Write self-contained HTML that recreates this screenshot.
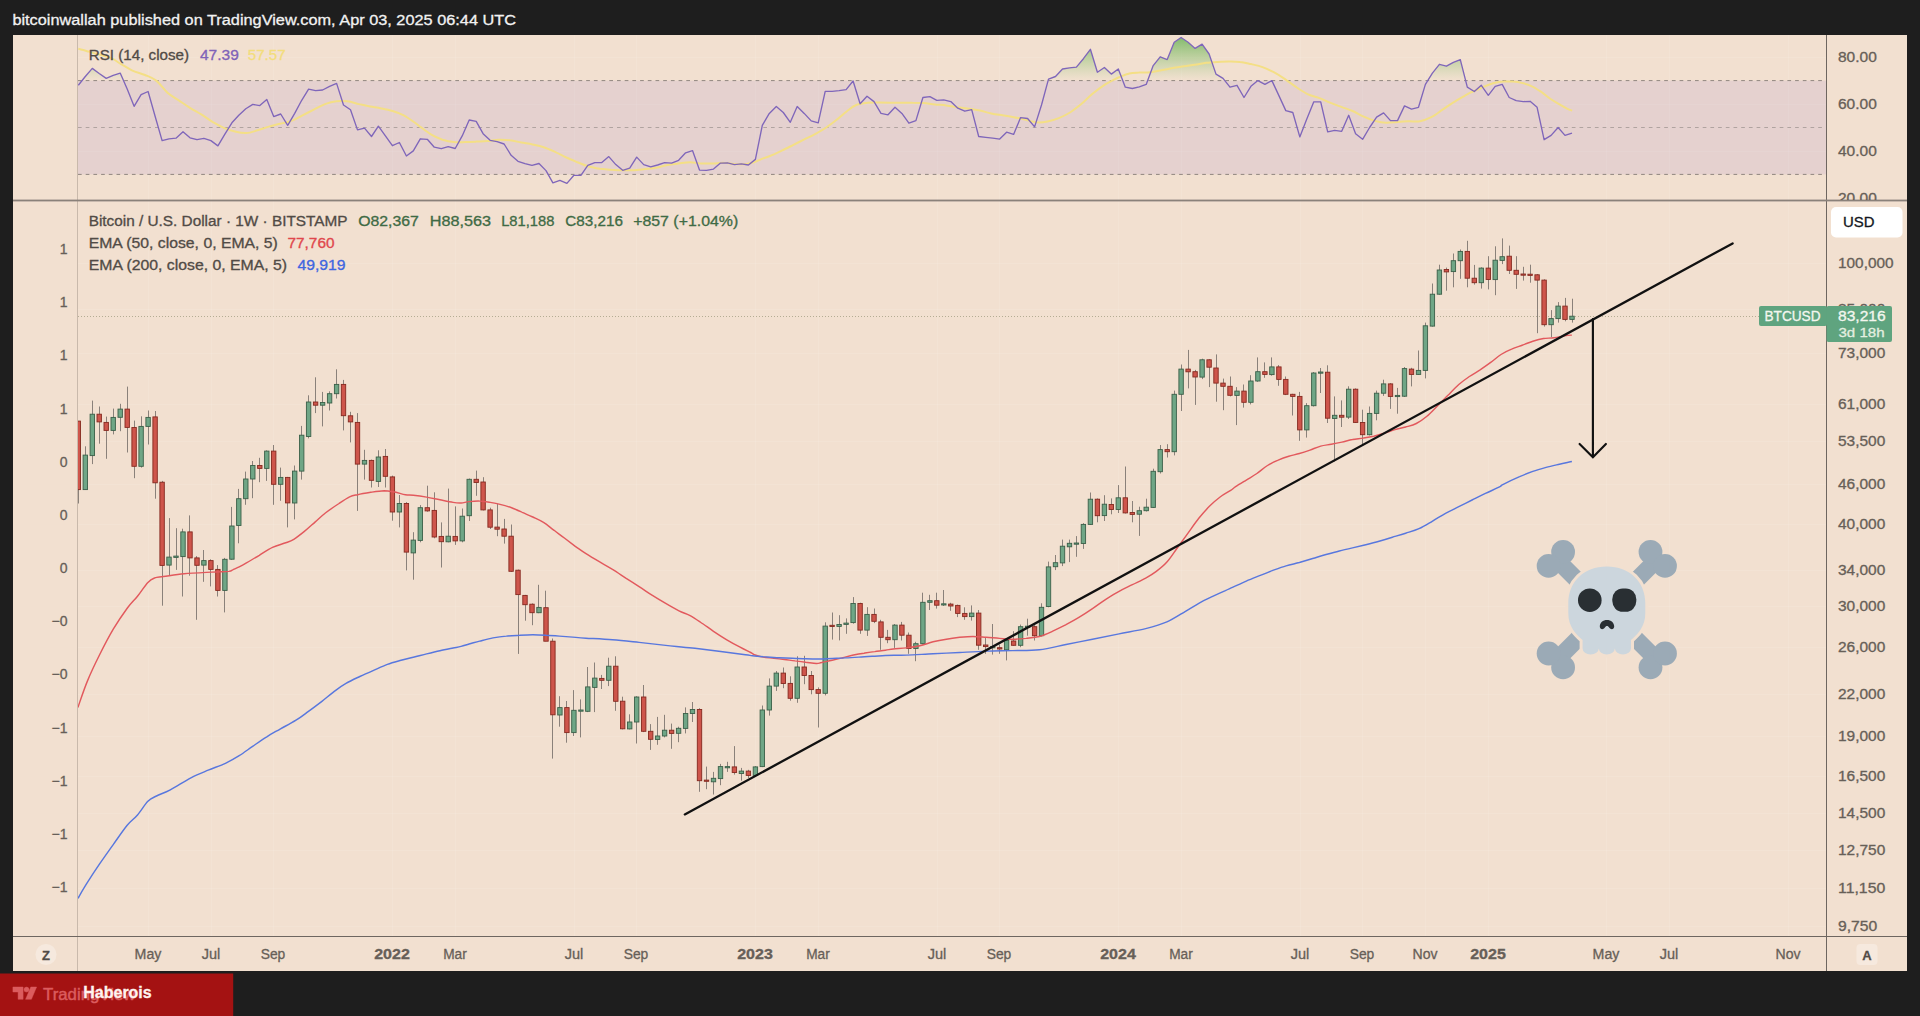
<!DOCTYPE html>
<html lang="en"><head><meta charset="utf-8"><title>BTCUSD 1W chart</title>
<style>html,body{margin:0;padding:0;background:#1e1e1e;}body{width:1920px;height:1016px;overflow:hidden;}svg{display:block;}text{font-family:"Liberation Sans", Arial, sans-serif;}</style>
</head><body>
<svg width="1920" height="1016" viewBox="0 0 1920 1016">
<defs>
<clipPath id="cpMain"><rect x="78" y="201" width="1748.5" height="735.5"/></clipPath>
<clipPath id="cpRsi"><rect x="78" y="35" width="1748.5" height="165.5"/></clipPath>
<clipPath id="cpOB"><rect x="78" y="35" width="1748.5" height="45.6"/></clipPath>
<clipPath id="cpLeft"><rect x="13" y="201" width="64" height="735"/></clipPath>
<clipPath id="cpRsiAx"><rect x="1827" y="35" width="80" height="165"/></clipPath>
<linearGradient id="gOB" x1="0" y1="35" x2="0" y2="80.6" gradientUnits="userSpaceOnUse"><stop offset="0" stop-color="#6db35a" stop-opacity="0.9"/><stop offset="0.55" stop-color="#86c06c" stop-opacity="0.42"/><stop offset="1" stop-color="#9ccb84" stop-opacity="0"/></linearGradient>
</defs>
<rect x="0" y="0" width="1920" height="1016" fill="#1e1e1e"/>
<text x="12.4" y="25" font-size="15.5" fill="#f2f2f2" textLength="503.6" lengthAdjust="spacingAndGlyphs" stroke="#f2f2f2" stroke-width="0.3">bitcoinwallah published on TradingView.com, Apr 03, 2025 06:44 UTC</text>
<rect x="13" y="35" width="1894" height="936" fill="#F2E0D0"/>
<g stroke="#fff" stroke-opacity="0.10" stroke-width="1">
<line x1="148.5" y1="35" x2="148.5" y2="936"/>
<line x1="211.5" y1="35" x2="211.5" y2="936"/>
<line x1="273.5" y1="35" x2="273.5" y2="936"/>
<line x1="392.5" y1="35" x2="392.5" y2="936"/>
<line x1="455.5" y1="35" x2="455.5" y2="936"/>
<line x1="574.5" y1="35" x2="574.5" y2="936"/>
<line x1="636.5" y1="35" x2="636.5" y2="936"/>
<line x1="755.5" y1="35" x2="755.5" y2="936"/>
<line x1="818.5" y1="35" x2="818.5" y2="936"/>
<line x1="937.5" y1="35" x2="937.5" y2="936"/>
<line x1="999.5" y1="35" x2="999.5" y2="936"/>
<line x1="1118.5" y1="35" x2="1118.5" y2="936"/>
<line x1="1181.5" y1="35" x2="1181.5" y2="936"/>
<line x1="1300.5" y1="35" x2="1300.5" y2="936"/>
<line x1="1362.5" y1="35" x2="1362.5" y2="936"/>
<line x1="1425.5" y1="35" x2="1425.5" y2="936"/>
<line x1="1488.5" y1="35" x2="1488.5" y2="936"/>
<line x1="1606.5" y1="35" x2="1606.5" y2="936"/>
<line x1="1669.5" y1="35" x2="1669.5" y2="936"/>
<line x1="1788.5" y1="35" x2="1788.5" y2="936"/>
<line x1="78" y1="263.5" x2="1826" y2="263.5"/>
<line x1="78" y1="309.5" x2="1826" y2="309.5"/>
<line x1="78" y1="353.5" x2="1826" y2="353.5"/>
<line x1="78" y1="404.5" x2="1826" y2="404.5"/>
<line x1="78" y1="441.5" x2="1826" y2="441.5"/>
<line x1="78" y1="484.5" x2="1826" y2="484.5"/>
<line x1="78" y1="524.5" x2="1826" y2="524.5"/>
<line x1="78" y1="570.5" x2="1826" y2="570.5"/>
<line x1="78" y1="606.5" x2="1826" y2="606.5"/>
<line x1="78" y1="647.5" x2="1826" y2="647.5"/>
<line x1="78" y1="694.5" x2="1826" y2="694.5"/>
<line x1="78" y1="736.5" x2="1826" y2="736.5"/>
<line x1="78" y1="776.5" x2="1826" y2="776.5"/>
<line x1="78" y1="813.5" x2="1826" y2="813.5"/>
<line x1="78" y1="850.5" x2="1826" y2="850.5"/>
<line x1="78" y1="888.5" x2="1826" y2="888.5"/>
<line x1="78" y1="926.5" x2="1826" y2="926.5"/>
<line x1="78" y1="57.5" x2="1826" y2="57.5"/>
<line x1="78" y1="104.5" x2="1826" y2="104.5"/>
<line x1="78" y1="151.5" x2="1826" y2="151.5"/>
</g>
<g clip-path="url(#cpRsi)">
<rect x="78" y="80.6" width="1748" height="93.8" fill="#7E57C2" fill-opacity="0.105"/>
<path d="M78.3,80.6 L78.3,85.3 L85.3,76.5 L92.3,68.4 L99.2,73.5 L106.2,78.4 L113.2,75.4 L120.2,73.1 L127.2,89.1 L134.1,106.3 L141.1,94.7 L148.1,91.5 L155.1,116.3 L162.1,140.6 L169,138.8 L176,138.2 L183,131.8 L190,137.8 L197,139.7 L203.9,138.4 L210.9,140.6 L217.9,145.9 L224.9,134.1 L231.9,122.8 L238.8,115.3 L245.8,108.8 L252.8,104.4 L259.8,105.6 L266.8,99.4 L273.7,116.6 L280.7,114 L287.7,125.3 L294.7,113.4 L301.7,100.3 L308.6,89.1 L315.6,90.6 L322.6,90 L329.6,86.3 L336.6,83.4 L343.5,105 L350.5,109.7 L357.5,129.9 L364.5,128.1 L371.5,136.5 L378.4,126.2 L385.4,135.9 L392.4,145.7 L399.4,142.5 L406.4,156 L413.3,150.9 L420.3,138.8 L427.3,139.3 L434.3,147.2 L441.3,148.7 L448.2,146.6 L455.2,148.5 L462.2,135.9 L469.2,120 L476.2,121.3 L483.1,133.7 L490.1,140.3 L497.1,141.6 L504.1,144 L511.1,155.3 L518,161.3 L525,163.7 L532,165.4 L539,163.5 L546,170.6 L552.9,182.8 L559.9,180.4 L566.9,183.4 L573.9,175.3 L580.9,175.3 L587.8,165.4 L594.8,162.6 L601.8,162.6 L608.8,156.6 L615.8,164.6 L622.7,170.3 L629.7,168.2 L636.7,157.1 L643.7,164.6 L650.7,166.9 L657.6,165 L664.6,162.6 L671.6,163.1 L678.6,160.3 L685.6,152.8 L692.5,150.6 L699.5,170.1 L706.5,170.3 L713.5,169.1 L720.5,163.1 L727.4,162.8 L734.4,164.6 L741.4,163.9 L748.4,165 L755.4,159.4 L762.3,125.3 L769.3,113.4 L776.3,106.5 L783.3,112.5 L790.3,122.3 L797.2,106.5 L804.2,113.4 L811.2,120.9 L818.2,122.8 L825.2,91.3 L832.1,91.3 L839.1,90.6 L846.1,89.6 L853.1,81 L860.1,103.7 L867,96.2 L874,101.6 L881,113.4 L888,114.8 L895,107.3 L901.9,113.4 L908.9,123.2 L915.9,120.6 L922.9,97.5 L929.9,96.6 L936.8,100.3 L943.8,99.9 L950.8,101.6 L957.8,108.2 L964.8,111.2 L971.7,109.7 L978.7,136.5 L985.7,137.3 L992.7,138.2 L999.7,139.1 L1006.6,132.2 L1013.6,134.4 L1020.6,117.6 L1027.6,118.5 L1034.6,126.9 L1041.5,105 L1048.5,79.1 L1055.5,76.5 L1062.5,69 L1069.5,67.9 L1076.4,67.1 L1083.4,58.7 L1090.4,49.3 L1097.4,72.2 L1104.4,67.5 L1111.3,74.1 L1118.3,69 L1125.3,87.2 L1132.3,88.5 L1139.3,86.8 L1146.2,84.4 L1153.2,65.6 L1160.2,56.8 L1167.2,59.6 L1174.2,42.2 L1181.1,37.5 L1188.1,42.2 L1195.1,48.4 L1202.1,44.1 L1209.1,54 L1216,74.1 L1223,78.4 L1230,87.2 L1237,85.3 L1244,97.5 L1250.9,86.3 L1257.9,80.6 L1264.9,84.4 L1271.9,80.6 L1278.9,95.6 L1285.8,110.6 L1292.8,112.5 L1299.8,136.9 L1306.8,119.1 L1313.8,101.8 L1320.7,101.8 L1327.7,131.8 L1334.7,130.3 L1341.7,131.3 L1348.7,115.3 L1355.6,133.7 L1362.6,139.3 L1369.6,127.5 L1376.6,117.2 L1383.6,112.9 L1390.5,120.6 L1397.5,120.6 L1404.5,105.9 L1411.5,109.1 L1418.5,107.3 L1425.4,84.4 L1432.4,73.1 L1439.4,64.3 L1446.4,66.2 L1453.4,62.3 L1460.3,59.6 L1467.3,87.2 L1474.3,91.5 L1481.3,85.3 L1488.3,95.3 L1495.2,86.3 L1502.2,84.4 L1509.2,97.5 L1516.2,100.7 L1523.2,101.6 L1530.1,101.3 L1537.1,107.3 L1544.1,139.7 L1551.1,135.4 L1558.1,127.5 L1565,135.4 L1572,133.1 L1572,80.6 Z" fill="url(#gOB)" clip-path="url(#cpOB)"/>
<line x1="78" y1="80.6" x2="1825.5" y2="80.6" stroke="#90867f" stroke-width="1" stroke-dasharray="3.7 4"/>
<line x1="78" y1="127.5" x2="1825.5" y2="127.5" stroke="#b0a3a0" stroke-width="1" stroke-dasharray="3.7 4"/>
<line x1="78" y1="174.4" x2="1825.5" y2="174.4" stroke="#90867f" stroke-width="1" stroke-dasharray="3.7 4"/>
<path fill="none" stroke="#F4DF85" stroke-width="2" stroke-linejoin="round" d="M78.3,48.8C80,49.2 85.1,50.6 88.8,51.6C92.4,52.6 96.3,53.7 100,54.8C103.8,55.8 107.8,56.6 111.3,58.1C114.7,59.6 117.2,61.7 120.6,63.8C124.1,65.8 127.8,68.4 131.9,70.3C135.9,72.2 140.9,73.3 145,75C149.1,76.7 152.5,77.7 156.3,80.6C160,83.6 163.8,89.5 167.5,92.8C171.3,96.1 175,97.8 178.8,100.3C182.5,102.8 186.3,105.5 190,107.8C193.8,110.2 197.5,112 201.3,114.4C205,116.7 208.8,119.6 212.5,121.9C216.3,124.1 220,126.3 223.8,127.9C227.5,129.5 231.3,130.8 235,131.6C238.8,132.5 242.5,133.3 246.3,133.1C250,132.9 253.8,131.4 257.5,130.3C261.3,129.2 265,127.7 268.8,126.6C272.5,125.5 276.3,124.7 280,123.8C283.8,122.8 287.5,122.3 291.3,120.9C295,119.5 298.8,117.2 302.5,115.3C306.3,113.4 310,111.6 313.8,109.7C317.5,107.8 321.3,105.5 325,104.1C328.8,102.7 332.5,101.7 336.3,101.3C340,100.8 343.8,100.8 347.5,101.3C351.3,101.7 355,103.2 358.8,104.1C362.5,104.9 366.3,105.8 370,106.5C373.8,107.2 377.5,107.6 381.3,108.4C385,109.1 388.8,109.8 392.5,111C396.3,112.2 400,113.3 403.8,115.3C407.5,117.3 412.3,120.9 415,122.8C417.7,124.7 417.3,124.6 420,126.6C422.7,128.5 427.5,132.4 431.3,134.6C435,136.8 438.8,138.4 442.5,139.7C446.3,140.9 450,141.7 453.8,142.1C457.5,142.5 461.3,142.2 465,142.1C468.8,142 472.5,141.8 476.3,141.6C480,141.4 483.8,141.3 487.5,141C491.3,140.7 495,139.8 498.8,139.7C502.5,139.6 506.3,139.8 510,140.3C513.8,140.7 517.5,141.8 521.3,142.5C525,143.2 528.8,143.6 532.5,144.4C536.3,145.2 540,145.9 543.8,147.2C547.5,148.4 551.3,150.2 555,151.9C558.8,153.6 562.5,155.8 566.3,157.5C570,159.2 573.8,160.7 577.5,162.2C581.3,163.7 585,165.4 588.8,166.5C592.5,167.6 596.3,168.2 600,168.8C603.8,169.3 607.5,169.4 611.3,169.7C615,169.9 618.8,170.2 622.5,170.3C626.3,170.3 630,170.4 633.8,170.3C637.5,170.1 641.3,169.5 645,169.1C648.8,168.7 652.5,168.5 656.3,167.8C660,167.1 663.8,165.7 667.5,165C671.3,164.3 675,164 678.8,163.5C682.5,163 686.3,162.2 690,162.2C693.8,162.2 697.5,163.3 701.3,163.5C705,163.7 708.8,163.6 712.5,163.5C716.3,163.4 720,162.7 723.8,162.8C727.5,162.8 731.3,163.8 735,164.1C738.8,164.3 743.1,164.4 746.3,164.1C749.4,163.8 750.9,163.1 753.8,162.2C756.6,161.3 760.4,159.5 763.1,158.4C765.8,157.4 767,157.3 770,156C773,154.8 777.5,152.7 781.3,150.9C785,149.2 788.8,147.2 792.5,145.3C796.3,143.4 800,141.6 803.8,139.7C807.5,137.8 811.3,136.1 815,134.1C818.8,132 822.5,130 826.3,127.5C830,125 833.8,122 837.5,119.1C841.3,116.1 845.6,112 848.8,109.7C851.9,107.3 853.1,106.2 856.3,105C859.4,103.8 863.8,103.2 867.5,102.8C871.3,102.3 875,102.6 878.8,102.6C882.5,102.6 886.3,102.7 890,102.8C893.8,102.8 897.5,102.8 901.3,102.8C905,102.8 908.8,102.7 912.5,102.8C916.3,102.8 920,102.8 923.8,103.1C927.5,103.4 931.3,104.1 935,104.4C938.8,104.8 942.5,104.9 946.3,105.4C950,105.8 953.8,106.7 957.5,107.3C961.3,107.8 965,108.2 968.8,108.8C972.5,109.3 976.3,109.8 980,110.6C983.8,111.4 987.5,112.7 991.3,113.4C995,114.2 998.8,114.7 1002.5,115.3C1006.3,115.9 1010,116.5 1013.8,117.2C1017.5,117.9 1021.3,118.8 1025,119.6C1028.8,120.5 1032.5,121.9 1036.3,122.3C1040,122.6 1043.8,122.2 1047.5,121.5C1051.3,120.8 1055,119.6 1058.8,118.1C1062.5,116.6 1066.3,114.8 1070,112.5C1073.8,110.2 1077.5,107.2 1081.3,104.1C1085,100.9 1088.8,96.9 1092.5,93.8C1096.3,90.6 1100,87.8 1103.8,85.3C1107.5,82.9 1112.3,80.5 1115,79.1C1117.7,77.7 1117.6,77.8 1120,76.9C1122.4,75.9 1126.3,74.2 1129.4,73.5C1132.5,72.8 1135.3,72.8 1138.8,72.6C1142.2,72.3 1146.3,72.6 1150,72.2C1153.8,71.8 1157.5,71 1161.3,70.3C1165,69.6 1168.8,68.8 1172.5,68.1C1176.3,67.4 1180,66.8 1183.8,66.2C1187.5,65.6 1191.3,65.3 1195,64.7C1198.8,64.1 1202.5,63.3 1206.3,62.8C1210,62.3 1213.8,62.1 1217.5,61.9C1221.3,61.7 1225,61.5 1228.8,61.5C1232.5,61.5 1236.3,61.4 1240,61.9C1243.8,62.3 1247.5,63.3 1251.3,64.1C1255,65 1258.8,65.8 1262.5,67.1C1266.3,68.5 1270,70.2 1273.8,72.2C1277.5,74.2 1281.3,76.6 1285,79.1C1288.8,81.6 1292.5,84.7 1296.3,87.2C1300,89.7 1303.8,92.3 1307.5,94.1C1311.3,95.9 1315,96.5 1318.8,97.9C1322.5,99.3 1326.3,101.1 1330,102.6C1333.8,104.1 1337.5,105.5 1341.3,106.9C1345,108.3 1348.8,109.4 1352.5,111C1356.3,112.6 1360,115 1363.8,116.6C1367.5,118.3 1371.3,119.9 1375,120.9C1378.8,122 1382.5,122.7 1386.3,122.8C1390,123 1393.8,122.1 1397.5,121.9C1401.3,121.6 1405,121.4 1408.8,121.3C1412.5,121.2 1416.3,122 1420,121.3C1423.8,120.6 1427.5,119.1 1431.3,117.2C1435,115.3 1438.8,112.2 1442.5,109.7C1446.3,107.2 1450,104.5 1453.8,102.2C1457.5,99.8 1462.3,97.2 1465,95.6C1467.7,94.1 1468.4,93.6 1470,92.8C1471.6,92 1473,91.7 1474.7,90.9C1476.3,90.2 1477.6,89.5 1479.9,88.5C1482.3,87.5 1486,85.8 1488.8,84.8C1491.5,83.8 1493.8,83 1496.3,82.5C1498.8,82 1500.9,81.7 1503.8,81.6C1506.6,81.4 1510,81.3 1513.1,81.6C1516.3,81.8 1519.4,82.3 1522.5,83.1C1525.6,83.8 1528.8,84.8 1531.9,86.3C1535,87.7 1538.1,89.8 1541.3,91.9C1544.4,94 1547.5,96.9 1550.6,99C1553.8,101.1 1557.2,103 1560,104.6C1562.8,106.3 1565.5,107.8 1567.5,108.8C1569.5,109.8 1571.4,110.3 1572.2,110.6"/>
<polyline fill="none" stroke="#7F66BA" stroke-width="1.35" stroke-linejoin="round" points="78.3,85.3 85.3,76.5 92.3,68.4 99.2,73.5 106.2,78.4 113.2,75.4 120.2,73.1 127.2,89.1 134.1,106.3 141.1,94.7 148.1,91.5 155.1,116.3 162.1,140.6 169,138.8 176,138.2 183,131.8 190,137.8 197,139.7 203.9,138.4 210.9,140.6 217.9,145.9 224.9,134.1 231.9,122.8 238.8,115.3 245.8,108.8 252.8,104.4 259.8,105.6 266.8,99.4 273.7,116.6 280.7,114 287.7,125.3 294.7,113.4 301.7,100.3 308.6,89.1 315.6,90.6 322.6,90 329.6,86.3 336.6,83.4 343.5,105 350.5,109.7 357.5,129.9 364.5,128.1 371.5,136.5 378.4,126.2 385.4,135.9 392.4,145.7 399.4,142.5 406.4,156 413.3,150.9 420.3,138.8 427.3,139.3 434.3,147.2 441.3,148.7 448.2,146.6 455.2,148.5 462.2,135.9 469.2,120 476.2,121.3 483.1,133.7 490.1,140.3 497.1,141.6 504.1,144 511.1,155.3 518,161.3 525,163.7 532,165.4 539,163.5 546,170.6 552.9,182.8 559.9,180.4 566.9,183.4 573.9,175.3 580.9,175.3 587.8,165.4 594.8,162.6 601.8,162.6 608.8,156.6 615.8,164.6 622.7,170.3 629.7,168.2 636.7,157.1 643.7,164.6 650.7,166.9 657.6,165 664.6,162.6 671.6,163.1 678.6,160.3 685.6,152.8 692.5,150.6 699.5,170.1 706.5,170.3 713.5,169.1 720.5,163.1 727.4,162.8 734.4,164.6 741.4,163.9 748.4,165 755.4,159.4 762.3,125.3 769.3,113.4 776.3,106.5 783.3,112.5 790.3,122.3 797.2,106.5 804.2,113.4 811.2,120.9 818.2,122.8 825.2,91.3 832.1,91.3 839.1,90.6 846.1,89.6 853.1,81 860.1,103.7 867,96.2 874,101.6 881,113.4 888,114.8 895,107.3 901.9,113.4 908.9,123.2 915.9,120.6 922.9,97.5 929.9,96.6 936.8,100.3 943.8,99.9 950.8,101.6 957.8,108.2 964.8,111.2 971.7,109.7 978.7,136.5 985.7,137.3 992.7,138.2 999.7,139.1 1006.6,132.2 1013.6,134.4 1020.6,117.6 1027.6,118.5 1034.6,126.9 1041.5,105 1048.5,79.1 1055.5,76.5 1062.5,69 1069.5,67.9 1076.4,67.1 1083.4,58.7 1090.4,49.3 1097.4,72.2 1104.4,67.5 1111.3,74.1 1118.3,69 1125.3,87.2 1132.3,88.5 1139.3,86.8 1146.2,84.4 1153.2,65.6 1160.2,56.8 1167.2,59.6 1174.2,42.2 1181.1,37.5 1188.1,42.2 1195.1,48.4 1202.1,44.1 1209.1,54 1216,74.1 1223,78.4 1230,87.2 1237,85.3 1244,97.5 1250.9,86.3 1257.9,80.6 1264.9,84.4 1271.9,80.6 1278.9,95.6 1285.8,110.6 1292.8,112.5 1299.8,136.9 1306.8,119.1 1313.8,101.8 1320.7,101.8 1327.7,131.8 1334.7,130.3 1341.7,131.3 1348.7,115.3 1355.6,133.7 1362.6,139.3 1369.6,127.5 1376.6,117.2 1383.6,112.9 1390.5,120.6 1397.5,120.6 1404.5,105.9 1411.5,109.1 1418.5,107.3 1425.4,84.4 1432.4,73.1 1439.4,64.3 1446.4,66.2 1453.4,62.3 1460.3,59.6 1467.3,87.2 1474.3,91.5 1481.3,85.3 1488.3,95.3 1495.2,86.3 1502.2,84.4 1509.2,97.5 1516.2,100.7 1523.2,101.6 1530.1,101.3 1537.1,107.3 1544.1,139.7 1551.1,135.4 1558.1,127.5 1565,135.4 1572,133.1"/>
</g>
<text x="88.7" y="59.6" font-size="14" fill="#514b46" textLength="100.4" lengthAdjust="spacingAndGlyphs" stroke="#514b46" stroke-width="0.3">RSI (14, close)</text>
<text x="200" y="59.6" font-size="14" fill="#7F63B8" textLength="38.8" lengthAdjust="spacingAndGlyphs" stroke="#7F63B8" stroke-width="0.3">47.39</text>
<text x="247.8" y="59.6" font-size="14" fill="#F3DD7C" textLength="37.8" lengthAdjust="spacingAndGlyphs" stroke="#F3DD7C" stroke-width="0.3">57.57</text>
<g clip-path="url(#cpMain)">
<line x1="78" y1="316.5" x2="1826" y2="316.5" stroke="#a09c80" stroke-opacity="0.75" stroke-width="1" stroke-dasharray="1 2"/>
<path d="M78.5,421.1V503.5M85.5,446.3V489.6M92.5,400.6V464.1M99.5,406.5V443.7M106.5,416.6V458.8M113.5,408.6V434.4M120.5,403.8V431.2M127.5,386.6V452.5M134.5,420.6V478.2M141.5,416.3V467.6M148.5,410.5V444.5M155.5,411V498.7M162.5,480.9V605.7M169.5,518.1V575.7M176.5,528.2V569.9M182.5,528.7V596.5M189.5,515.4V575.7M196.5,556.1V619.8M203.5,550V581.8M210.5,559.3V586.4M217.5,565.1V596.5M224.5,557.9V612.4M231.5,506.9V559.8M238.5,488.9V543.3M245.5,471.6V504.8M252.5,461V498.2M259.5,457.8V482.2M266.5,450.3V480.9M273.5,445V504.8M280.5,467.6V500.8M287.5,476.9V527.4M294.5,465.5V519.4M301.5,425.9V479.6M308.5,395.3V438.4M315.5,377.3V413.1M322.5,391.9V426.4M329.5,391.3V410.5M336.5,369.3V398.5M343.5,379.9V430.4M350.5,411.8V442.4M357.5,413.1V510.9M364.5,449.8V479.6M371.5,459.6V487.5M378.5,450.3V487M385.5,449V487.5M392.5,475.6V520.7M399.5,495V527.4M406.5,502.1V570.4M413.5,532.2V579.7M420.5,505.1V542.3M427.5,485.7V511.7M434.5,492.3V538.3M441.5,522.4V567.5M448.5,488.6V542.3M455.5,506.4V544.9M462.5,508.5V542.3M469.5,478.5V521M476.5,470.6V495.8M483.5,477.2V510.4M490.5,507.7V529M497.5,503.8V536.2M504.5,518.9V543.6M511.5,524.5V572M518.5,569.6V653.9M525.5,594.9V620.7M532.5,603.4V625.2M538.5,584.8V613.2M545.5,590.7V641.2M552.5,638.5V758.6M559.5,696.2V726.7M566.5,701V742.7M573.5,690.1V736M580.5,699.4V737.4M587.5,667V712.1M594.5,662.5V712.1M601.5,674.9V689M608.5,657.7V686.1M615.5,656.3V710.8M622.5,696.7V729.4M629.5,714.3V729.4M636.5,696.2V743.5M643.5,685V732.1M650.5,724.1V749.9M657.5,716.9V744.8M664.5,714.8V737.4M671.5,723.6V748.8M678.5,726.7V742.2M685.5,707.4V733.4M692.5,702V722M699.5,708.2V791.8M706.5,766.6V789.2M713.5,771.9V794.5M720.5,763.9V785.2M727.5,761.8V771.9M734.5,746.1V774.6M741.5,767.9V780.7M748.5,769.8V778M755.5,766.1V776.7M762.5,705.5V767.1M769.5,678.4V715.6M776.5,671V690.9M783.5,667.5V688.2M790.5,676.3V700.7M797.5,656.3V702.8M804.5,655.8V684.2M811.5,671V694.3M818.5,687.4V727.5M825.5,622.3V695.4M832.5,612.5V639.6M839.5,615.2V640.4M846.5,618.4V633.8M853.5,597.1V623.7M860.5,602.7V633.8M867.5,607.2V635.9M874.5,608.5V623.1M880.5,619.8V649.8M887.5,629.9V643.2M894.5,624V647.9M901.5,621.9V640.5M908.5,632.5V653.8M915.5,641.8V661.2M922.5,592.7V644.5M929.5,594.8V610M936.5,592.7V608.6M943.5,590V606M950.5,602.8V610.8M957.5,604.6V617.1M964.5,607.3V619.8M971.5,605.4V620.6M978.5,610V649.8M985.5,637.9V653.8M992.5,624V654.6M999.5,644.5V653.8M1006.5,639.2V660.4M1013.5,631.2V645.8M1020.5,624.6V647.2M1027.5,618.7V635.7M1034.5,624.6V640.5M1041.5,603.3V636.5M1048.5,561.6V607.3M1055.5,555V570.1M1062.5,539.6V566.1M1069.5,539.6V562.1M1076.5,536.1V556.8M1083.5,523.1V548.9M1090.5,492.5V524.9M1097.5,498.4V522.3M1104.5,495.2V521M1111.5,498.4V514.3M1118.5,485.1V513M1125.5,466.5V513.5M1132.5,501V522.3M1139.5,506.7V535.9M1146.5,498.7V511.5M1153.5,468.7V508M1160.5,445V473.5M1167.5,444.2V457.5M1174.5,390.6V455.4M1181.5,364.5V411M1188.5,349.9V388.4M1195.5,369.9V404.9M1202.5,358.7V379.1M1209.5,359.2V387.1M1216.5,354.4V401.7M1223.5,378.6V410.2M1230.5,376.5V396.4M1236.5,387.1V425.1M1243.5,384.5V407.6M1250.5,375.2V404.4M1257.5,357.4V381.8M1264.5,362.4V377.8M1271.5,357.4V375.7M1278.5,365.1V385.8M1285.5,376.5V395.1M1292.5,393.8V415.5M1299.5,391.9V440.8M1306.5,403.1V437.6M1313.5,372V406.5M1320.5,368V393M1327.5,365.3V423M1334.5,396.4V461.5M1341.5,400.4V427M1348.5,386.3V419M1355.5,388.4V423M1362.5,409.7V445.6M1369.5,406.5V435.5M1376.5,390.6V420.3M1383.5,379.7V395.9M1390.5,383.1V408.9M1397.5,387.9V413.7M1404.5,367V397M1411.5,367.8V386.4M1418.5,350.5V374.9M1425.5,322.6V378.4M1432.5,283.5V326.6M1439.5,264.7V294.7M1446.5,267.6V290.7M1453.5,253.5V287.3M1460.5,249.5V278.8M1467.5,240.8V287.3M1474.5,264.9V284.6M1481.5,267.3V288.6M1488.5,256.2V289.4M1495.5,246.3V295.2M1502.5,238.4V264.1M1509.5,245.6V274M1516.5,256.2V288.9M1523.5,266.8V280.6M1530.5,264.7V282.7M1537.5,274V333.2M1544.5,279.3V326.6M1551.5,310.1V337.2M1558.5,302.1V322.6M1565.5,297.9V321.3M1572.5,298.7V322.6" stroke="#8a817a" stroke-width="1" fill="none"/>
<g fill="#6FA686" stroke="#3a5f48" stroke-width="0.9"><rect x="83.1" y="455.1" width="4.4" height="34.5"/><rect x="90.1" y="414.2" width="4.4" height="41.4"/><rect x="111" y="417.4" width="4.4" height="13"/><rect x="118" y="409.1" width="4.4" height="8.2"/><rect x="138.9" y="426.4" width="4.4" height="39.9"/><rect x="145.9" y="417.4" width="4.4" height="9"/><rect x="166.8" y="557.1" width="4.4" height="8"/><rect x="173.8" y="556.1" width="4.4" height="1.3"/><rect x="180.8" y="531.9" width="4.4" height="24.7"/><rect x="201.7" y="560.6" width="4.4" height="4.5"/><rect x="222.7" y="559.3" width="4.4" height="31.1"/><rect x="229.7" y="526" width="4.4" height="33.2"/><rect x="236.6" y="498.7" width="4.4" height="26.8"/><rect x="243.6" y="479" width="4.4" height="19.7"/><rect x="250.6" y="465.5" width="4.4" height="13.5"/><rect x="264.6" y="451.1" width="4.4" height="17.3"/><rect x="278.5" y="477.4" width="4.4" height="6.9"/><rect x="292.5" y="471.1" width="4.4" height="31.9"/><rect x="299.5" y="435.2" width="4.4" height="35.9"/><rect x="306.4" y="402" width="4.4" height="34.5"/><rect x="320.4" y="402.5" width="4.4" height="2.7"/><rect x="327.4" y="393.7" width="4.4" height="9.3"/><rect x="334.4" y="384.4" width="4.4" height="9.3"/><rect x="362.3" y="460.4" width="4.4" height="3.7"/><rect x="376.2" y="457" width="4.4" height="24.4"/><rect x="397.2" y="503.5" width="4.4" height="8.5"/><rect x="411.1" y="540.1" width="4.4" height="12.8"/><rect x="418.1" y="507.7" width="4.4" height="32.7"/><rect x="446" y="536.2" width="4.4" height="5.6"/><rect x="460" y="516.2" width="4.4" height="24.7"/><rect x="467" y="479.3" width="4.4" height="36.4"/><rect x="536.8" y="607.4" width="4.4" height="5.3"/><rect x="557.7" y="707.6" width="4.4" height="7.4"/><rect x="571.7" y="710.3" width="4.4" height="22.3"/><rect x="578.7" y="710" width="4.4" height="1.2"/><rect x="585.6" y="686.9" width="4.4" height="24.4"/><rect x="592.6" y="678.1" width="4.4" height="9.3"/><rect x="606.6" y="666.2" width="4.4" height="14.1"/><rect x="627.5" y="722" width="4.4" height="6.9"/><rect x="634.5" y="697" width="4.4" height="25"/><rect x="655.4" y="736" width="4.4" height="3.5"/><rect x="662.4" y="730.2" width="4.4" height="5.8"/><rect x="676.4" y="728.3" width="4.4" height="5"/><rect x="683.4" y="713.5" width="4.4" height="14.9"/><rect x="690.3" y="709.5" width="4.4" height="4"/><rect x="711.3" y="778.3" width="4.4" height="3.5"/><rect x="718.3" y="766.6" width="4.4" height="12"/><rect x="725.2" y="766.6" width="4.4" height="1.2"/><rect x="739.2" y="771.1" width="4.4" height="2.4"/><rect x="753.2" y="766.9" width="4.4" height="8.5"/><rect x="760.1" y="710" width="4.4" height="56.6"/><rect x="767.1" y="686.1" width="4.4" height="23.9"/><rect x="774.1" y="673.1" width="4.4" height="13"/><rect x="795" y="667" width="4.4" height="31.3"/><rect x="823" y="626.1" width="4.4" height="67.2"/><rect x="836.9" y="624.5" width="4.4" height="1.9"/><rect x="843.9" y="623.1" width="4.4" height="1.3"/><rect x="850.9" y="603.5" width="4.4" height="19.1"/><rect x="864.8" y="614.4" width="4.4" height="15.7"/><rect x="892.8" y="625.1" width="4.4" height="14.6"/><rect x="913.7" y="643.7" width="4.4" height="4.8"/><rect x="920.7" y="602.3" width="4.4" height="41.4"/><rect x="927.7" y="600.7" width="4.4" height="1.6"/><rect x="941.6" y="603.8" width="4.4" height="1.2"/><rect x="969.5" y="613.1" width="4.4" height="3.5"/><rect x="990.5" y="646.6" width="4.4" height="1.2"/><rect x="1004.4" y="640.5" width="4.4" height="9.3"/><rect x="1018.4" y="626.7" width="4.4" height="18.6"/><rect x="1025.4" y="626.2" width="4.4" height="1.2"/><rect x="1039.3" y="607.3" width="4.4" height="28.4"/><rect x="1046.3" y="566.9" width="4.4" height="39.6"/><rect x="1053.3" y="562.7" width="4.4" height="4"/><rect x="1060.3" y="546.2" width="4.4" height="16.7"/><rect x="1067.3" y="543.3" width="4.4" height="3.5"/><rect x="1074.2" y="543" width="4.4" height="1.2"/><rect x="1081.2" y="524.4" width="4.4" height="19.1"/><rect x="1088.2" y="499.2" width="4.4" height="25.2"/><rect x="1102.2" y="504.2" width="4.4" height="11.4"/><rect x="1116.1" y="497.8" width="4.4" height="11.7"/><rect x="1137.1" y="510.7" width="4.4" height="3.5"/><rect x="1144" y="507.2" width="4.4" height="3.5"/><rect x="1151" y="471.3" width="4.4" height="36.1"/><rect x="1158" y="449.6" width="4.4" height="22.1"/><rect x="1172" y="394.3" width="4.4" height="57.4"/><rect x="1178.9" y="369.1" width="4.4" height="25.2"/><rect x="1199.9" y="359.8" width="4.4" height="17.3"/><rect x="1234.8" y="391.1" width="4.4" height="4.3"/><rect x="1248.7" y="381" width="4.4" height="21.3"/><rect x="1255.7" y="371.7" width="4.4" height="9.3"/><rect x="1269.7" y="366.9" width="4.4" height="7.7"/><rect x="1304.6" y="405.7" width="4.4" height="24.2"/><rect x="1311.6" y="373" width="4.4" height="32.7"/><rect x="1318.5" y="372" width="4.4" height="1.2"/><rect x="1332.5" y="415.3" width="4.4" height="3.2"/><rect x="1346.5" y="389.2" width="4.4" height="27.9"/><rect x="1367.4" y="413.4" width="4.4" height="21.3"/><rect x="1374.4" y="393.2" width="4.4" height="20.2"/><rect x="1381.4" y="383.9" width="4.4" height="9.3"/><rect x="1395.3" y="395.4" width="4.4" height="1.2"/><rect x="1402.3" y="368.6" width="4.4" height="27.6"/><rect x="1416.3" y="370.4" width="4.4" height="4"/><rect x="1423.2" y="325.8" width="4.4" height="44.6"/><rect x="1430.2" y="294.2" width="4.4" height="31.9"/><rect x="1437.2" y="270" width="4.4" height="24.2"/><rect x="1451.2" y="260.7" width="4.4" height="10.9"/><rect x="1458.1" y="251.4" width="4.4" height="9.3"/><rect x="1479.1" y="268.1" width="4.4" height="14.6"/><rect x="1493" y="260.2" width="4.4" height="19.4"/><rect x="1500" y="256.7" width="4.4" height="3.7"/><rect x="1548.9" y="318.6" width="4.4" height="6.1"/><rect x="1555.9" y="306.1" width="4.4" height="12.5"/><rect x="1569.8" y="316.2" width="4.4" height="3.2"/></g>
<g fill="#CE554B" stroke="#85291f" stroke-width="0.9"><rect x="76.1" y="421.1" width="4.4" height="68.5"/><rect x="97" y="414.2" width="4.4" height="7.7"/><rect x="104" y="422.4" width="4.4" height="8"/><rect x="125" y="409.1" width="4.4" height="18.3"/><rect x="131.9" y="427.5" width="4.4" height="38.8"/><rect x="152.9" y="416.9" width="4.4" height="65.9"/><rect x="159.9" y="482.2" width="4.4" height="83.2"/><rect x="187.8" y="531.9" width="4.4" height="26"/><rect x="194.8" y="557.9" width="4.4" height="7.4"/><rect x="208.7" y="560.6" width="4.4" height="8.8"/><rect x="215.7" y="569.4" width="4.4" height="21"/><rect x="257.6" y="465.5" width="4.4" height="2.9"/><rect x="271.5" y="451.1" width="4.4" height="33.2"/><rect x="285.5" y="477.4" width="4.4" height="25.5"/><rect x="313.4" y="402" width="4.4" height="3.2"/><rect x="341.3" y="384.4" width="4.4" height="31.3"/><rect x="348.3" y="415.8" width="4.4" height="6.1"/><rect x="355.3" y="422.4" width="4.4" height="41.7"/><rect x="369.3" y="460.4" width="4.4" height="19.9"/><rect x="383.2" y="456.4" width="4.4" height="19.9"/><rect x="390.2" y="476.9" width="4.4" height="35.1"/><rect x="404.2" y="503.5" width="4.4" height="48.6"/><rect x="425.1" y="507.7" width="4.4" height="3.2"/><rect x="432.1" y="510.4" width="4.4" height="26.6"/><rect x="439.1" y="536.4" width="4.4" height="5.3"/><rect x="453" y="536.4" width="4.4" height="4.5"/><rect x="474" y="479.3" width="4.4" height="3.2"/><rect x="480.9" y="482" width="4.4" height="27.9"/><rect x="487.9" y="509.9" width="4.4" height="17.3"/><rect x="494.9" y="527.1" width="4.4" height="2.1"/><rect x="501.9" y="529" width="4.4" height="7.2"/><rect x="508.9" y="536.2" width="4.4" height="35.1"/><rect x="515.8" y="570.2" width="4.4" height="24.4"/><rect x="522.8" y="595.4" width="4.4" height="9.3"/><rect x="529.8" y="604.2" width="4.4" height="8.5"/><rect x="543.8" y="607.7" width="4.4" height="33.5"/><rect x="550.7" y="641.2" width="4.4" height="73.6"/><rect x="564.7" y="707.6" width="4.4" height="25"/><rect x="599.6" y="678.4" width="4.4" height="1.9"/><rect x="613.6" y="666.2" width="4.4" height="35.1"/><rect x="620.5" y="701.2" width="4.4" height="27.6"/><rect x="641.5" y="697" width="4.4" height="34.3"/><rect x="648.5" y="731.3" width="4.4" height="8"/><rect x="669.4" y="730.2" width="4.4" height="3.2"/><rect x="697.3" y="709.5" width="4.4" height="71.2"/><rect x="704.3" y="780.1" width="4.4" height="1.2"/><rect x="732.2" y="766.9" width="4.4" height="5.6"/><rect x="746.2" y="771.1" width="4.4" height="4.3"/><rect x="781.1" y="673.1" width="4.4" height="10.4"/><rect x="788.1" y="683.4" width="4.4" height="14.9"/><rect x="802" y="667" width="4.4" height="8.5"/><rect x="809" y="675.5" width="4.4" height="14.1"/><rect x="816" y="689.6" width="4.4" height="3.7"/><rect x="829.9" y="625.3" width="4.4" height="1.2"/><rect x="857.9" y="603.5" width="4.4" height="26.6"/><rect x="871.8" y="614.4" width="4.4" height="6.9"/><rect x="878.8" y="621.9" width="4.4" height="15.4"/><rect x="885.8" y="637.3" width="4.4" height="2.4"/><rect x="899.7" y="625.1" width="4.4" height="10.1"/><rect x="906.7" y="635.2" width="4.4" height="13.3"/><rect x="934.6" y="600.7" width="4.4" height="4.5"/><rect x="948.6" y="604.1" width="4.4" height="1.9"/><rect x="955.6" y="605.4" width="4.4" height="8"/><rect x="962.6" y="613.4" width="4.4" height="3.2"/><rect x="976.5" y="613.1" width="4.4" height="32.1"/><rect x="983.5" y="645" width="4.4" height="1.6"/><rect x="997.5" y="647.7" width="4.4" height="1.3"/><rect x="1011.4" y="641" width="4.4" height="4.3"/><rect x="1032.4" y="626.7" width="4.4" height="9"/><rect x="1095.2" y="499.2" width="4.4" height="16.5"/><rect x="1109.1" y="504.5" width="4.4" height="5"/><rect x="1123.1" y="497.8" width="4.4" height="15.1"/><rect x="1130.1" y="512.5" width="4.4" height="1.9"/><rect x="1165" y="449.6" width="4.4" height="2.1"/><rect x="1185.9" y="369.1" width="4.4" height="2.7"/><rect x="1192.9" y="371.7" width="4.4" height="5.3"/><rect x="1206.9" y="359.8" width="4.4" height="7.4"/><rect x="1213.8" y="368" width="4.4" height="15.1"/><rect x="1220.8" y="383.1" width="4.4" height="3.2"/><rect x="1227.8" y="386.3" width="4.4" height="9"/><rect x="1241.8" y="391.1" width="4.4" height="11.2"/><rect x="1262.7" y="371.7" width="4.4" height="2.7"/><rect x="1276.7" y="366.9" width="4.4" height="12.5"/><rect x="1283.6" y="379.4" width="4.4" height="14.9"/><rect x="1290.6" y="394.3" width="4.4" height="2.1"/><rect x="1297.6" y="396.4" width="4.4" height="33.5"/><rect x="1325.5" y="372.2" width="4.4" height="46"/><rect x="1339.5" y="415.3" width="4.4" height="1.9"/><rect x="1353.4" y="389.2" width="4.4" height="33.2"/><rect x="1360.4" y="422.5" width="4.4" height="12.2"/><rect x="1388.3" y="383.9" width="4.4" height="12.5"/><rect x="1409.3" y="369.1" width="4.4" height="5.3"/><rect x="1444.2" y="269.5" width="4.4" height="2.4"/><rect x="1465.1" y="251.4" width="4.4" height="26.8"/><rect x="1472.1" y="278.2" width="4.4" height="4.5"/><rect x="1486.1" y="268.1" width="4.4" height="11.4"/><rect x="1507" y="256.2" width="4.4" height="14.1"/><rect x="1514" y="270.3" width="4.4" height="4"/><rect x="1521" y="274" width="4.4" height="1.2"/><rect x="1527.9" y="274.2" width="4.4" height="1.2"/><rect x="1534.9" y="274.8" width="4.4" height="5.3"/><rect x="1541.9" y="280.1" width="4.4" height="44.6"/><rect x="1562.8" y="306.1" width="4.4" height="13.3"/></g>
<path fill="none" stroke="#E2595D" stroke-width="1.45" stroke-linejoin="round" d="M77.9,707.5C79.5,703 83.9,689.4 87.6,680.6C91.2,671.8 95.3,663.4 99.6,654.8C103.9,646.1 108.8,636.7 113.4,628.9C118,621.2 123.2,613.7 127.2,608.2C131.2,602.8 134.1,600.5 137.5,596.2C141,591.9 145,585.4 147.9,582.4C150.7,579.4 152.2,578.9 154.8,577.9C157.3,576.9 158.5,577.2 163.4,576.5C168.3,575.9 176,574.5 184.1,573.8C192.1,573 204.2,572.5 211.6,572.1C219.1,571.7 225.3,571.7 228.8,571.4C232.4,571 231,570.6 232.7,569.9C234.4,569.1 237,568 239.2,566.9C241.4,565.8 242.6,565.2 246,563.2C249.3,561.3 254.8,557.9 259.3,555.3C263.7,552.6 268.1,549.4 272.5,547.3C277,545.2 282.3,544.1 285.8,542.8C289.4,541.5 290.7,541.2 293.8,539.3C296.9,537.4 300.9,534.2 304.4,531.4C308,528.5 311.5,525.2 315,522.1C318.6,519 321.7,515.9 325.7,512.8C329.7,509.7 335,506.1 339,503.5C342.9,500.8 346.5,498.3 349.6,496.8C352.7,495.4 354,495.4 357.6,494.7C361.1,493.9 366.4,493 370.8,492.3C375.3,491.6 380.1,490.8 384.1,490.7C388.1,490.7 391.2,491.4 394.8,492C398.3,492.7 402.3,494.2 405.4,494.7C408.5,495.2 409.8,494.9 413.3,495.3C416.8,495.7 422.1,496.4 426.6,497.1C431,497.9 435.4,498.9 439.9,499.8C444.3,500.7 449.6,501.9 453.1,502.4C456.7,503 458.4,503.1 461.1,503C463.8,502.8 466,501.9 469.1,501.6C472.2,501.3 476.2,501 479.7,501.1C483.2,501.2 486.8,501.9 490.3,502.4C493.9,503 497.4,503.7 501,504.6C504.5,505.4 508,506.5 511.6,507.7C515.1,509 518.7,510.7 522.2,512.3C525.8,513.8 529.3,515.4 532.8,517C536.4,518.7 539.9,520.1 543.5,522.4C547,524.6 550.5,527.7 554.1,530.3C557.6,533 561.2,535.6 564.7,538.3C568.3,541 571.8,543.7 575.3,546.3C578.9,548.8 582,551.1 586,553.7C590,556.3 594.8,559.1 599.3,561.7C603.7,564.3 608.1,566.6 612.5,569.4C617,572.1 621.4,575.3 625.8,578.2C630.3,581 634.7,583.8 639.1,586.7C643.5,589.5 648,592.6 652.4,595.4C656.8,598.2 661.2,600.8 665.7,603.4C670.1,606 675,608.8 679,610.8C682.9,612.8 686,613.5 689.6,615.3C693.1,617.2 696.2,619.3 700.2,622C704.2,624.6 709.1,628.3 713.5,631.3C717.9,634.3 722.4,637.1 726.8,639.8C731.2,642.4 736.1,645.1 740.1,647.2C744,649.4 748.2,651.2 750.7,652.5C753.2,653.8 753.1,654.2 755.2,655C757.3,655.8 760.1,656.6 763.2,657.1C766.3,657.7 770.3,657.8 773.8,658.2C777.3,658.6 780.9,659.1 784.4,659.5C788,660 791.5,660.4 795,660.9C798.6,661.3 802.1,661.7 805.7,662.2C809.2,662.6 813.6,663.5 816.3,663.5C819,663.6 819,663 821.6,662.5C824.3,661.9 828.7,661.1 832.2,660.3C835.8,659.5 839.3,658.6 842.9,657.7C846.4,656.8 850,655.8 853.5,655C857,654.3 860.6,653.7 864.1,653.2C867.7,652.6 871.2,652 874.8,651.6C878.3,651.1 882.3,650.7 885.4,650.2C888.5,649.8 889.8,649.4 893.3,649C896.8,648.6 902.1,648.5 906.6,647.9C911,647.4 915.4,646.8 919.9,645.8C924.3,644.8 928.7,642.9 933.1,641.8C937.6,640.7 942,639.9 946.4,639.2C950.8,638.4 955.3,637.8 959.7,637.3C964.1,636.9 968.6,636.5 973,636.5C977.4,636.5 981.8,637 986.3,637.3C990.7,637.6 995.1,638.1 999.6,638.4C1004,638.7 1008.4,639.2 1012.8,639.2C1017.3,639.2 1021.7,638.8 1026.1,638.4C1030.5,637.9 1035,637.7 1039.4,636.5C1043.8,635.3 1048.3,633.2 1052.7,631.2C1057.1,629.2 1061.5,626.9 1066,624.6C1070.4,622.2 1074.8,619.8 1079.3,617.1C1083.7,614.5 1088.1,611.6 1092.5,608.6C1097,605.7 1101.4,602.2 1105.8,599.3C1110.3,596.5 1114.7,593.8 1119.1,591.4C1123.5,588.9 1128,586.9 1132.4,584.7C1136.8,582.5 1141.7,580.3 1145.7,578.1C1149.7,575.9 1152.8,574.1 1156.3,571.4C1159.8,568.8 1163.4,566.1 1166.9,562.1C1170.5,558.2 1174,552.4 1177.6,547.5C1181.1,542.7 1184.6,537.8 1188.2,532.9C1191.7,528 1195.3,522.7 1198.8,518.3C1202.4,513.9 1205.9,509.9 1209.4,506.3C1213,502.8 1216.5,499.7 1220.1,497C1223.6,494.4 1228.1,492.1 1230.7,490.4C1233.3,488.7 1233,488.5 1235.6,486.7C1238.2,485 1242.7,482.3 1246.3,480.1C1249.8,477.9 1253.4,475.9 1256.9,473.5C1260.4,471 1264,467.7 1267.5,465.5C1271.1,463.3 1274.6,461.7 1278.2,460.2C1281.7,458.6 1285.2,457.3 1288.8,456.2C1292.3,455.1 1295.9,454.6 1299.4,453.5C1302.9,452.5 1306.5,451.3 1310,450.1C1313.6,448.8 1317.1,447.1 1320.7,446.1C1324.2,445.1 1327.7,444.9 1331.3,444.2C1334.8,443.6 1338.4,442.9 1341.9,442.1C1345.5,441.3 1349,440.1 1352.5,439.5C1356.1,438.8 1359.6,438.7 1363.2,438.1C1366.7,437.6 1370.3,437.1 1373.8,436.3C1377.3,435.4 1380.9,434.2 1384.4,433.1C1388,432 1391.5,430.6 1395,429.6C1398.6,428.6 1402.1,428 1405.7,427C1409.2,426 1412.8,425.3 1416.3,423.5C1419.8,421.7 1423.4,419.3 1426.9,416.3C1430.5,413.4 1434,409.3 1437.6,405.7C1441.1,402.2 1444.6,398.6 1448.2,395.1C1451.7,391.5 1455.3,387.6 1458.8,384.5C1462.4,381.4 1465.9,378.9 1469.4,376.5C1473,374.1 1476.5,372.2 1480.1,369.9C1483.6,367.5 1487.2,365 1490.7,362.4C1494.2,359.9 1497.5,356.7 1501,354.5C1504.4,352.3 1508,350.7 1511.6,349.2C1515.1,347.6 1518.7,346.5 1522.2,345.2C1525.8,343.9 1529.3,342.3 1532.8,341.2C1536.4,340.1 1539.9,339.1 1543.5,338.5C1547,338 1550.5,338.2 1554.1,337.7C1557.6,337.3 1561.8,336.3 1564.7,335.9C1567.7,335.4 1570.7,335.2 1571.9,335.1"/>
<path fill="none" stroke="#5877DE" stroke-width="1.45" stroke-linejoin="round" d="M77.9,898.4C79.5,895.7 83.9,887.9 87.6,882.2C91.2,876.4 95.3,870.2 99.6,863.9C103.9,857.6 108.8,850.7 113.4,844.3C118,837.9 123.2,830.2 127.2,825.3C131.2,820.5 134.1,819 137.5,815C141,811 144.7,804.4 147.9,801.2C151,798.1 152.8,797.9 156.5,796C160.2,794.1 164.5,792.9 170.3,789.8C176,786.8 184.6,781.1 190.9,777.8C197.3,774.5 202.4,772.6 208.2,770.2C213.9,767.8 220.2,765.7 225.4,763.3C230.6,760.9 234.6,758.6 239.2,755.7C243.8,752.9 248.4,749.2 253,746.1C257.6,742.9 262.2,739.6 266.8,736.8C271.3,733.9 275.7,731.6 280.5,728.8C285.4,726.1 291.4,723.1 296,720.2C300.6,717.4 303.8,714.8 308.1,711.6C312.4,708.5 317.3,704.8 321.9,701.3C326.5,697.7 331.7,693.2 335.7,690.3C339.7,687.3 342,685.7 346,683.4C350,681.1 355.2,678.7 359.8,676.5C364.4,674.3 369,672.3 373.6,670.3C378.2,668.3 382.8,666.1 387.4,664.4C392,662.7 396.8,661.5 401.1,660.3C405.5,659.1 409,658.4 413.3,657.3C417.5,656.3 422.1,655 426.6,653.9C431,652.8 435.4,651.7 439.9,650.7C444.3,649.7 449.6,648.7 453.1,648C456.7,647.3 458.4,647.1 461.1,646.4C463.8,645.8 466,644.9 469.1,644C472.2,643.2 475.7,642.1 479.7,641.1C483.7,640.1 488.6,638.8 493,637.9C497.4,637.1 501.8,636.5 506.3,636.1C510.7,635.6 515.1,635.5 519.6,635.3C524,635 528.4,634.7 532.8,634.7C537.3,634.7 541.7,635 546.1,635.3C550.5,635.5 555,635.8 559.4,636.1C563.8,636.4 568.3,636.8 572.7,637.1C577.1,637.5 579.3,637.8 586,638.2C592.6,638.6 603.7,639.1 612.5,639.8C621.4,640.5 630.3,641.5 639.1,642.4C648,643.4 656.8,644.4 665.7,645.4C674.5,646.3 683.4,647 692.2,648C701.1,649 710,650.1 718.8,651.2C727.7,652.3 739.8,653.9 745.4,654.7C751,655.4 749.1,655.4 752.5,655.8C755.9,656.2 761.4,656.6 765.8,656.9C770.3,657.2 774.7,657.5 779.1,657.7C783.5,657.9 788,658 792.4,658.2C796.8,658.4 801.2,658.6 805.7,658.7C810.1,658.9 814.5,659 819,659C823.4,659 827.8,658.6 832.2,658.5C836.7,658.3 841.1,658.2 845.5,657.9C850,657.7 854.4,657.4 858.8,657.1C863.2,656.9 867.7,656.6 872.1,656.3C876.5,656.1 879.6,655.8 885.4,655.5C891.1,655.3 898.6,655.4 906.6,655.1C914.5,654.8 924.3,654.2 933.1,653.8C942,653.4 950.8,652.9 959.7,652.5C968.6,652 977.4,651.4 986.3,651.1C995.1,650.8 1004,650.8 1012.8,650.6C1021.7,650.4 1030.5,650.8 1039.4,649.8C1048.3,648.8 1057.1,646.3 1066,644.5C1074.8,642.7 1083.7,641 1092.5,639.2C1101.4,637.4 1110.3,635.6 1119.1,633.9C1128,632.1 1137.7,630.5 1145.7,628.6C1153.6,626.6 1160.3,624.8 1166.9,621.9C1173.6,619 1180.2,614.4 1185.5,611.3C1190.8,608.2 1194.4,605.8 1198.8,603.3C1203.2,600.9 1207.7,598.8 1212.1,596.7C1216.5,594.5 1221.9,592.1 1225.4,590.6C1228.9,589 1229.5,588.8 1233,587.2C1236.5,585.6 1241.8,583 1246.3,581.1C1250.7,579.2 1255.1,577.5 1259.6,575.7C1264,574 1268.4,572.1 1272.8,570.4C1277.3,568.8 1281.7,567.2 1286.1,565.9C1290.5,564.6 1295,563.7 1299.4,562.5C1303.8,561.2 1308.3,559.8 1312.7,558.5C1317.1,557.2 1321.5,555.7 1326,554.5C1330.4,553.3 1334.8,552.1 1339.3,551C1343.7,549.9 1348.1,548.9 1352.5,547.9C1357,546.8 1361.4,545.8 1365.8,544.7C1370.3,543.6 1374.7,542.5 1379.1,541.2C1383.5,540 1388,538.6 1392.4,537.2C1396.8,535.9 1401.2,534.7 1405.7,533.2C1410.1,531.8 1414.5,530.7 1419,528.7C1423.4,526.7 1427.8,523.9 1432.2,521.3C1436.7,518.7 1441.1,515.8 1445.5,513.3C1450,510.9 1454.4,508.9 1458.8,506.7C1463.2,504.5 1467.7,502.2 1472.1,500C1476.5,497.8 1480.7,495.6 1485.4,493.4C1490,491.2 1497.2,488.2 1500,486.7C1502.8,485.3 1499,486.6 1502.3,484.9C1505.5,483.2 1514.5,478.9 1519.6,476.7C1524.6,474.4 1528.4,472.9 1532.8,471.4C1537.3,469.8 1541.7,468.6 1546.1,467.4C1550.5,466.2 1555.1,465.2 1559.4,464.2C1563.7,463.2 1569.8,462 1571.9,461.5"/>
<line x1="684.8" y1="814.4" x2="1732.6" y2="243.4" stroke="#111" stroke-width="2.3" stroke-linecap="round"/>
<path d="M1592.9,319V456.5M1579.6,444L1592.9,457.3L1605.9,444" stroke="#111" stroke-width="2.15" fill="none" stroke-linecap="round" stroke-linejoin="miter"/>
</g>
<g id="skull">
<g fill="#9BAAB6" stroke="none">
<line x1="1557.8" y1="560.7" x2="1655.8" y2="658.7" stroke="#9BAAB6" stroke-width="17"/>
<line x1="1655.8" y1="560.7" x2="1557.8" y2="658.7" stroke="#9BAAB6" stroke-width="17"/>
<circle cx="1563.1" cy="552" r="11.9"/>
<circle cx="1548.6" cy="565.9" r="11.9"/>
<circle cx="1563.1" cy="667.4" r="11.9"/>
<circle cx="1548.6" cy="653.5" r="11.9"/>
<circle cx="1650.5" cy="552" r="11.9"/>
<circle cx="1665" cy="565.9" r="11.9"/>
<circle cx="1650.5" cy="667.4" r="11.9"/>
<circle cx="1665" cy="653.5" r="11.9"/>
</g>
<path d="M1606.8,566.4 C1629.8,566.4 1645.3,582 1645.3,603 L1645.3,613 C1645.3,627 1637.8,634 1631,640 L1631,648.6 a8.07,6 0 0 1 -16.13,0 a8.07,6 0 0 1 -16.13,0 a8.07,6 0 0 1 -16.14,0 L1582.6,640 C1575.8,634 1568.3,627 1568.3,613 L1568.3,603 C1568.3,582 1583.8,566.4 1606.8,566.4 Z" fill="#F2E0D0" stroke="#F2E0D0" stroke-width="6" stroke-linejoin="round"/>
<path d="M1606.8,566.4 C1629.8,566.4 1645.3,582 1645.3,603 L1645.3,613 C1645.3,627 1637.8,634 1631,640 L1631,648.6 a8.07,6 0 0 1 -16.13,0 a8.07,6 0 0 1 -16.13,0 a8.07,6 0 0 1 -16.14,0 L1582.6,640 C1575.8,634 1568.3,627 1568.3,613 L1568.3,603 C1568.3,582 1583.8,566.4 1606.8,566.4 Z" fill="#CCD6DD"/>
<ellipse cx="1589.8" cy="600.2" rx="11.8" ry="11.8" fill="#292F33"/>
<rect x="1612.3" y="588.4" width="24" height="23.4" rx="10.5" ry="10.8" fill="#292F33"/>
<path d="M1599.8,626.6 C1599.8,622.6 1603,619.9 1607,619.9 C1611,619.9 1614.2,622.6 1614.2,626.6 C1614.2,629.6 1610.6,629.900 1609.3,627.700 C1608.6,626.500 1607.8,625.900 1607,625.900 C1606.2,625.900 1605.4,626.500 1604.7,627.700 C1603.4,629.900 1599.800,629.600 1599.8,626.600 Z" fill="#292F33"/>
</g>
<text x="88.7" y="226.3" font-size="14" fill="#514b46" textLength="258.8" lengthAdjust="spacingAndGlyphs" stroke="#514b46" stroke-width="0.3">Bitcoin / U.S. Dollar · 1W · BITSTAMP</text>
<text x="358.2" y="226.3" font-size="14" fill="#3f6b45" textLength="60.6" lengthAdjust="spacingAndGlyphs" stroke="#3f6b45" stroke-width="0.3">O82,367</text>
<text x="429.7" y="226.3" font-size="14" fill="#3f6b45" textLength="61.3" lengthAdjust="spacingAndGlyphs" stroke="#3f6b45" stroke-width="0.3">H88,563</text>
<text x="501.2" y="226.3" font-size="14" fill="#3f6b45" textLength="53.2" lengthAdjust="spacingAndGlyphs" stroke="#3f6b45" stroke-width="0.3">L81,188</text>
<text x="565.3" y="226.3" font-size="14" fill="#3f6b45" textLength="57.6" lengthAdjust="spacingAndGlyphs" stroke="#3f6b45" stroke-width="0.3">C83,216</text>
<text x="633.2" y="226.3" font-size="14" fill="#3f6b45" textLength="105" lengthAdjust="spacingAndGlyphs" stroke="#3f6b45" stroke-width="0.3">+857 (+1.04%)</text>
<text x="88.7" y="248.4" font-size="14" fill="#514b46" textLength="189.1" lengthAdjust="spacingAndGlyphs" stroke="#514b46" stroke-width="0.3">EMA (50, close, 0, EMA, 5)</text>
<text x="287.5" y="248.4" font-size="14" fill="#E0474C" textLength="47" lengthAdjust="spacingAndGlyphs" stroke="#E0474C" stroke-width="0.3">77,760</text>
<text x="88.7" y="270.2" font-size="14" fill="#514b46" textLength="198.4" lengthAdjust="spacingAndGlyphs" stroke="#514b46" stroke-width="0.3">EMA (200, close, 0, EMA, 5)</text>
<text x="297.5" y="270.2" font-size="14" fill="#3F66E0" textLength="48.1" lengthAdjust="spacingAndGlyphs" stroke="#3F66E0" stroke-width="0.3">49,919</text>
<g stroke="#6e6660" stroke-width="1">
<line x1="77.5" y1="35" x2="77.5" y2="971" stroke="#c9b9ab"/>
<line x1="1826.5" y1="35" x2="1826.5" y2="971"/>
<line x1="13" y1="936.5" x2="1907" y2="936.5"/>
</g>
<rect x="13" y="199.6" width="1894" height="1.8" fill="#8a817a"/>
<g clip-path="url(#cpLeft)" font-size="14" fill="#675f58" text-anchor="end" stroke="#675f58" stroke-width="0.3">
<text x="67.5" y="254">1</text>
<text x="67.5" y="307.2">1</text>
<text x="67.5" y="360.3">1</text>
<text x="67.5" y="413.5">1</text>
<text x="67.5" y="466.7">0</text>
<text x="67.5" y="519.9">0</text>
<text x="67.5" y="573">0</text>
<text x="67.5" y="626.2">−0</text>
<text x="67.5" y="679.4">−0</text>
<text x="67.5" y="732.5">−1</text>
<text x="67.5" y="785.7">−1</text>
<text x="67.5" y="838.9">−1</text>
<text x="67.5" y="892">−1</text>
</g>
<g clip-path="url(#cpRsiAx)" font-size="14" fill="#675f58" stroke="#675f58" stroke-width="0.3">
<text x="1838" y="62" textLength="38.8" lengthAdjust="spacingAndGlyphs">80.00</text>
<text x="1838" y="109" textLength="38.8" lengthAdjust="spacingAndGlyphs">60.00</text>
<text x="1838" y="156" textLength="38.8" lengthAdjust="spacingAndGlyphs">40.00</text>
<text x="1838" y="202.5" textLength="38.8" lengthAdjust="spacingAndGlyphs">20.00</text>
</g>
<g font-size="14" fill="#675f58" stroke="#675f58" stroke-width="0.3">
<text x="1838" y="268" textLength="55.6" lengthAdjust="spacingAndGlyphs">100,000</text>
<text x="1838" y="314.3" textLength="47.3" lengthAdjust="spacingAndGlyphs">85,000</text>
<text x="1838" y="357.6" textLength="47.3" lengthAdjust="spacingAndGlyphs">73,000</text>
<text x="1838" y="408.8" textLength="47.3" lengthAdjust="spacingAndGlyphs">61,000</text>
<text x="1838" y="446.1" textLength="47.3" lengthAdjust="spacingAndGlyphs">53,500</text>
<text x="1838" y="489.2" textLength="47.3" lengthAdjust="spacingAndGlyphs">46,000</text>
<text x="1838" y="529" textLength="47.3" lengthAdjust="spacingAndGlyphs">40,000</text>
<text x="1838" y="575.2" textLength="47.3" lengthAdjust="spacingAndGlyphs">34,000</text>
<text x="1838" y="610.9" textLength="47.3" lengthAdjust="spacingAndGlyphs">30,000</text>
<text x="1838" y="651.6" textLength="47.3" lengthAdjust="spacingAndGlyphs">26,000</text>
<text x="1838" y="699.2" textLength="47.3" lengthAdjust="spacingAndGlyphs">22,000</text>
<text x="1838" y="741" textLength="47.3" lengthAdjust="spacingAndGlyphs">19,000</text>
<text x="1838" y="781.2" textLength="47.3" lengthAdjust="spacingAndGlyphs">16,500</text>
<text x="1838" y="818" textLength="47.3" lengthAdjust="spacingAndGlyphs">14,500</text>
<text x="1838" y="854.6" textLength="47.3" lengthAdjust="spacingAndGlyphs">12,750</text>
<text x="1838" y="892.8" textLength="47.3" lengthAdjust="spacingAndGlyphs">11,150</text>
<text x="1838" y="931" textLength="39.3" lengthAdjust="spacingAndGlyphs">9,750</text>
</g>
<rect x="1831" y="207" width="71.5" height="30.5" rx="5" fill="#fff"/>
<text x="1843" y="227.3" font-size="14" fill="#131722" textLength="31.5" lengthAdjust="spacingAndGlyphs" stroke="#131722" stroke-width="0.3">USD</text>
<rect x="1759" y="306" width="68" height="20" rx="2" fill="#5FA47F"/>
<rect x="1826.5" y="306" width="65.5" height="36" rx="2" fill="#5FA47F"/>
<text x="1764.5" y="321" font-size="14" fill="#f3f6ee" textLength="56" lengthAdjust="spacingAndGlyphs" stroke="#f3f6ee" stroke-width="0.3">BTCUSD</text>
<text x="1838" y="320.5" font-size="14" fill="#f3f6ee" textLength="47.7" lengthAdjust="spacingAndGlyphs" stroke="#f3f6ee" stroke-width="0.3">83,216</text>
<text x="1838.5" y="336.5" font-size="13.5" fill="#e4efe0" textLength="46" lengthAdjust="spacingAndGlyphs" stroke="#e4efe0" stroke-width="0.3">3d 18h</text>
<g font-size="14" fill="#675f58" stroke="#675f58" stroke-width="0.3">
<text x="134.6" y="959" textLength="26.8" lengthAdjust="spacingAndGlyphs">May</text>
<text x="201.7" y="959" textLength="18.6" lengthAdjust="spacingAndGlyphs">Jul</text>
<text x="260.7" y="959" textLength="24.6" lengthAdjust="spacingAndGlyphs">Sep</text>
<text x="374.2" y="959" textLength="35.6" lengthAdjust="spacingAndGlyphs" font-weight="bold">2022</text>
<text x="443.2" y="959" textLength="23.6" lengthAdjust="spacingAndGlyphs">Mar</text>
<text x="564.7" y="959" textLength="18.6" lengthAdjust="spacingAndGlyphs">Jul</text>
<text x="623.7" y="959" textLength="24.6" lengthAdjust="spacingAndGlyphs">Sep</text>
<text x="737.2" y="959" textLength="35.6" lengthAdjust="spacingAndGlyphs" font-weight="bold">2023</text>
<text x="806.2" y="959" textLength="23.6" lengthAdjust="spacingAndGlyphs">Mar</text>
<text x="927.7" y="959" textLength="18.6" lengthAdjust="spacingAndGlyphs">Jul</text>
<text x="986.7" y="959" textLength="24.6" lengthAdjust="spacingAndGlyphs">Sep</text>
<text x="1100.2" y="959" textLength="35.6" lengthAdjust="spacingAndGlyphs" font-weight="bold">2024</text>
<text x="1169.2" y="959" textLength="23.6" lengthAdjust="spacingAndGlyphs">Mar</text>
<text x="1290.7" y="959" textLength="18.6" lengthAdjust="spacingAndGlyphs">Jul</text>
<text x="1349.7" y="959" textLength="24.6" lengthAdjust="spacingAndGlyphs">Sep</text>
<text x="1412.5" y="959" textLength="25" lengthAdjust="spacingAndGlyphs">Nov</text>
<text x="1470.2" y="959" textLength="35.6" lengthAdjust="spacingAndGlyphs" font-weight="bold">2025</text>
<text x="1592.6" y="959" textLength="26.8" lengthAdjust="spacingAndGlyphs">May</text>
<text x="1659.7" y="959" textLength="18.6" lengthAdjust="spacingAndGlyphs">Jul</text>
<text x="1775.5" y="959" textLength="25" lengthAdjust="spacingAndGlyphs">Nov</text>
</g>
<circle cx="46" cy="954.5" r="10.5" fill="#F6E9DE"/>
<text x="46" y="959.5" font-size="13" font-weight="bold" fill="#514b46" text-anchor="middle" stroke="#514b46" stroke-width="0.3">Z</text>
<rect x="1856.5" y="944" width="21" height="21" rx="4" fill="#F6E9DE"/>
<text x="1867" y="959.5" font-size="13" font-weight="bold" fill="#514b46" text-anchor="middle" stroke="#514b46" stroke-width="0.3">A</text>
<rect x="0" y="973.5" width="233.2" height="42.5" fill="#A41212"/>
<g fill="#DB5C5E" stroke="#DB5C5E" stroke-width="0.45">
<path d="M12.900,987h10.200v12.300h-5v-7.300h-5.200z"/><circle cx="26.500" cy="989.600" r="2.500"/><path d="M30.800,987h5.800l-5.200,12.300h-5.800z"/>
<text x="43" y="1000" font-size="16.5" textLength="92.4" lengthAdjust="spacingAndGlyphs">TradingView</text>
</g>
<text x="83.3" y="997.6" font-size="16.5" font-weight="bold" fill="#fff3f0" textLength="68.4" lengthAdjust="spacingAndGlyphs" stroke="#fff3f0" stroke-width="0.3">Haberois</text>
</svg></body></html>
